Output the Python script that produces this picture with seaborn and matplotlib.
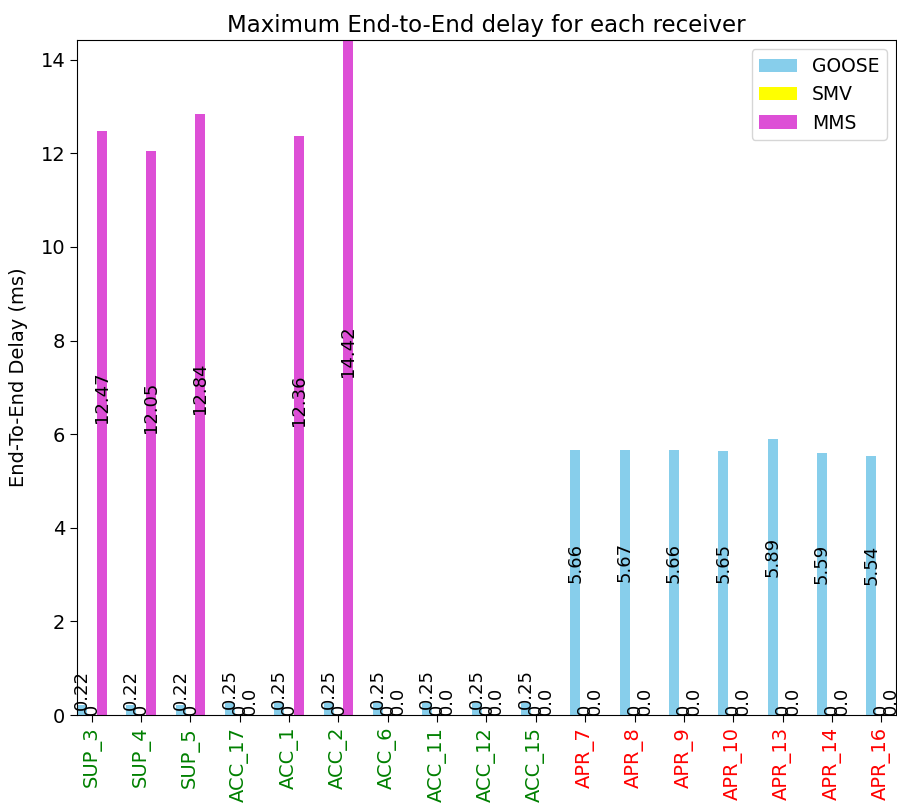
import pandas as pd
import matplotlib
matplotlib.use("Agg")
import matplotlib.pyplot as plt
import seaborn as sns

# receivers and max end-to-end delay per traffic type (ms)
receivers = ["SUP_3", "SUP_4", "SUP_5", "ACC_17", "ACC_1", "ACC_2", "ACC_6",
             "ACC_11", "ACC_12", "ACC_15", "APR_7", "APR_8", "APR_9",
             "APR_10", "APR_13", "APR_14", "APR_16"]
goose = [0.22, 0.22, 0.22, 0.25, 0.25, 0.25, 0.25, 0.25, 0.25, 0.25,
         5.66, 5.67, 5.66, 5.65, 5.89, 5.59, 5.54]
smv = [0, 0, 0, 0, 0, 0, 0, 0, 0, 0, 0, 0, 0, 0, 0, 0, 0]
mms = [12.47, 12.05, 12.84, 0.0, 12.36, 14.42, 0.0, 0.0, 0.0, 0.0,
       0.0, 0.0, 0.0, 0.0, 0.0, 0.0, 0.0]
types = ["GOOSE", "SMV", "MMS"]
colors = ["#87ceeb", "#ffff00", "#dd4fd6"]

series = {"GOOSE": goose, "SMV": smv, "MMS": mms}
rows = []
for t in types:
    for r, v in zip(receivers, series[t]):
        rows.append({"receiver": r, "type": t, "delay": v})
df = pd.DataFrame(rows)

fig = plt.figure(figsize=(8.97, 8.06), dpi=100)
ax = fig.add_axes([0.0858, 0.1129, 0.9131, 0.8375])

sns.barplot(data=df, x="receiver", y="delay", hue="type", order=receivers,
            hue_order=types, palette=colors, width=0.6, saturation=1,
            errorbar=None, ax=ax)

# value labels in the middle of each bar
for cont, t in zip(ax.containers, types):
    for bar, v in zip(cont, series[t]):
        ax.text(bar.get_x() + bar.get_width() / 2, bar.get_height() / 2, str(v),
                rotation=90, ha="center", va="bottom", fontsize=13)

ax.set_xlim(-0.3, 16.3)
ax.set_ylim(0, max(mms))
ax.set_xlabel("")
ax.set_ylabel("End-To-End Delay (ms)", fontsize=14, labelpad=9)
ax.set_title("Maximum End-to-End delay for each receiver", fontsize=16.5)
ax.tick_params(axis="both", labelsize=14, length=5)
plt.setp(ax.get_xticklabels(), rotation=90)
for lab in ax.get_xticklabels():
    if lab.get_text().startswith("APR"):
        lab.set_color("red")
    else:
        lab.set_color("green")

h, l = ax.get_legend_handles_labels()
ax.legend(h, l, loc="upper right", fontsize=13.5)

fig.savefig("out.png", dpi=100)
